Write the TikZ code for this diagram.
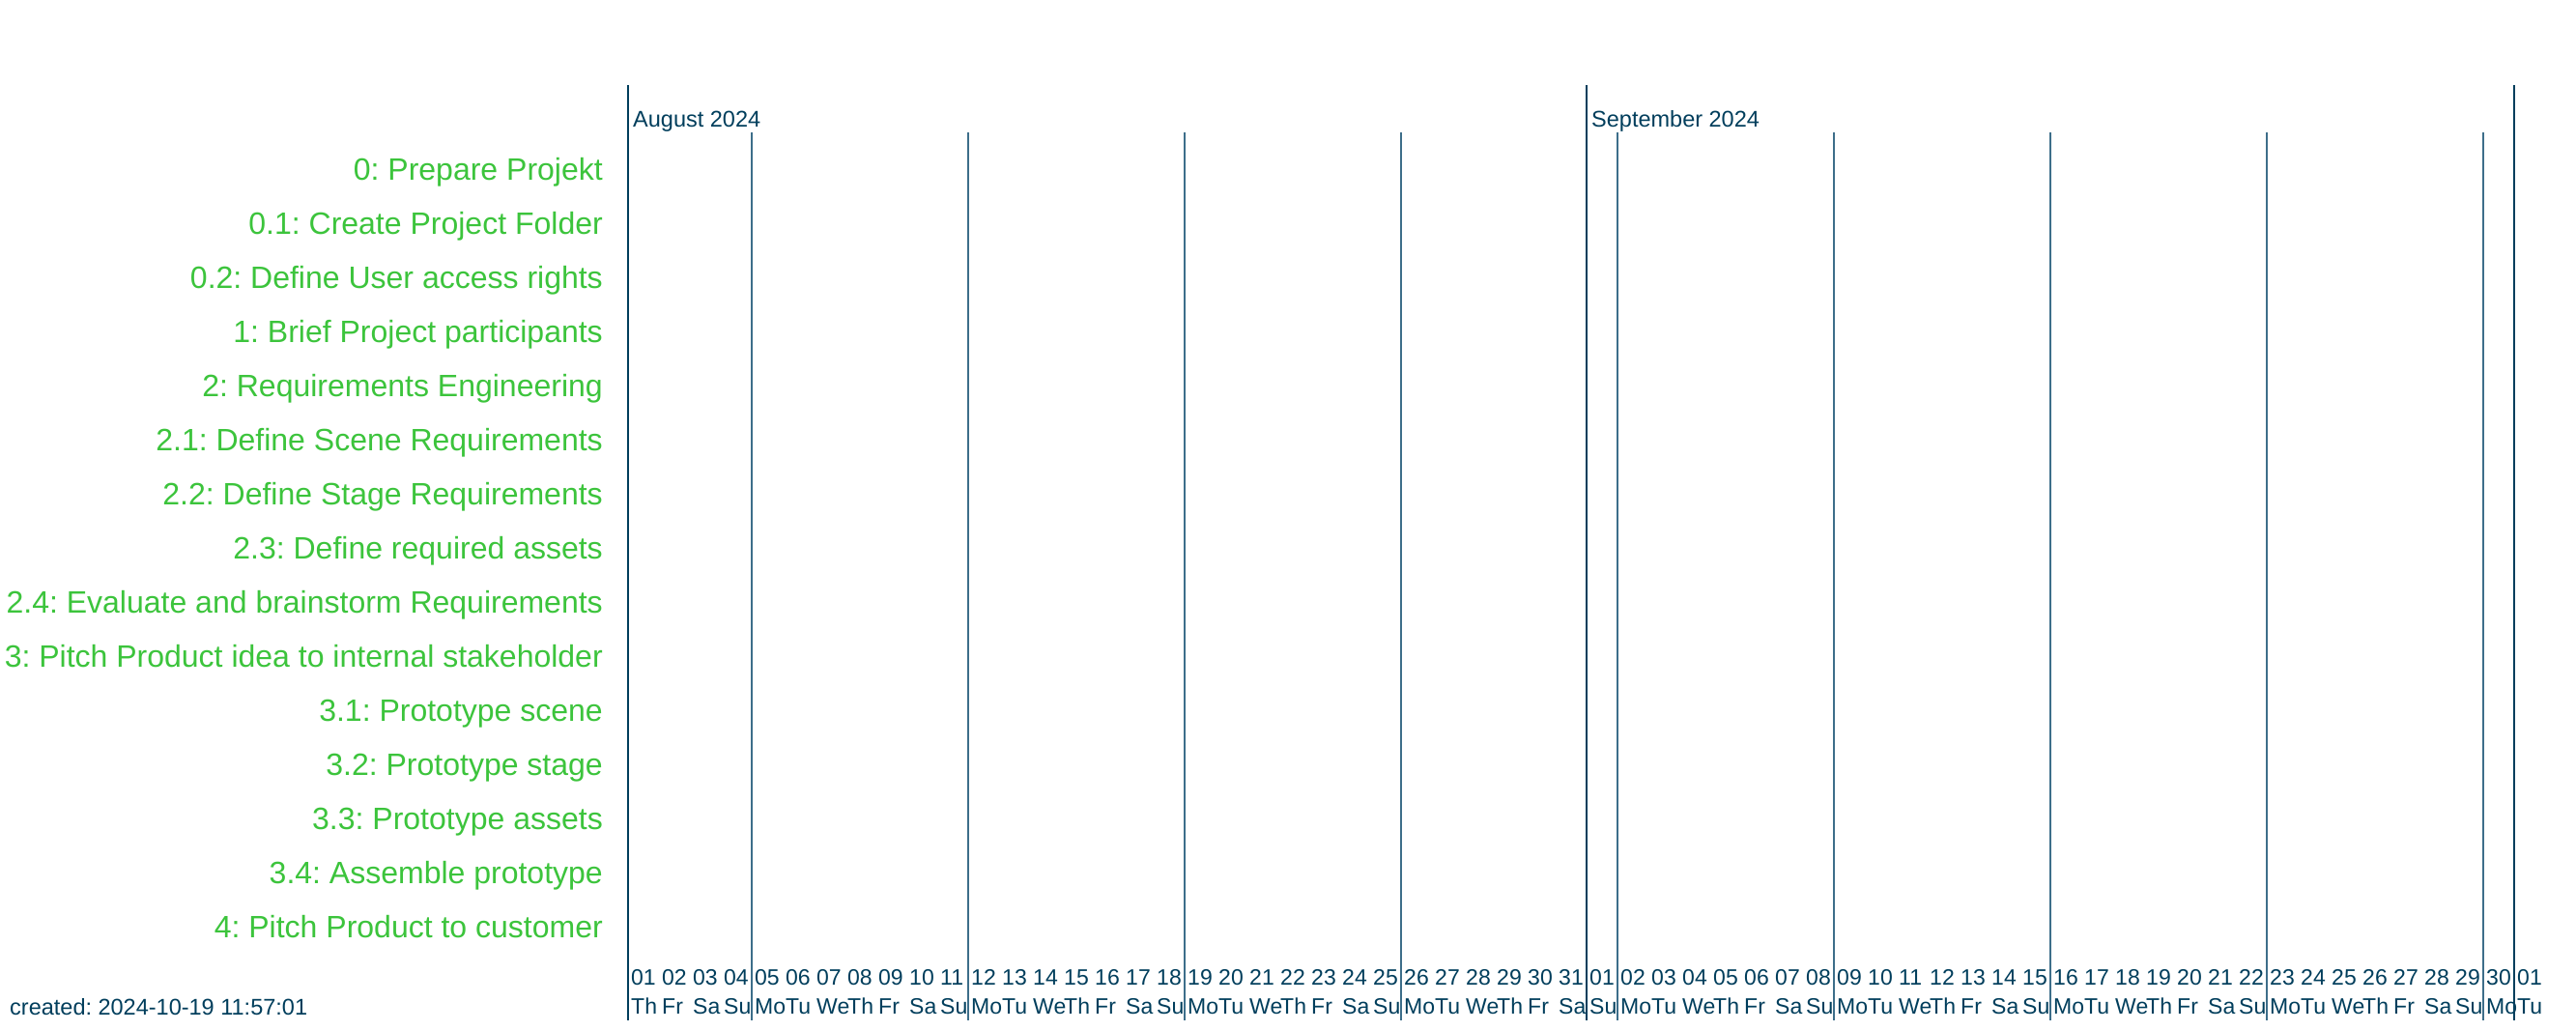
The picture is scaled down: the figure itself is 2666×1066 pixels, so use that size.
\documentclass[tikz,border=0pt]{standalone}
\usepackage{fontspec}
\setmainfont{Liberation Sans}
\frenchspacing
\definecolor{ink}{HTML}{003E5C}
\definecolor{weekc}{HTML}{3D6E8A}
\definecolor{taskc}{HTML}{3CC43C}
\tikzset{
  monthline/.style={draw=ink, line width=2.5pt},
  weekline/.style={draw=weekc, line width=1.2pt},
  tasklabel/.style={anchor=base east, inner sep=0pt, text=taskc, font=\fontsize{32}{38}\selectfont},
  daylabel/.style={anchor=base west, inner sep=0pt, text=ink, font=\fontsize{23}{27}\selectfont},
  monthlabel/.style={anchor=base west, inner sep=0pt, text=ink, font=\fontsize{23.5}{28}\selectfont},
}
\begin{document}
\begin{tikzpicture}[x=1pt,y=-1pt]
\useasboundingbox[fill=white] (0,0) rectangle (2666,1066);
% week lines (Mondays)
\foreach \wx [count=\k] in {778,1002,1226,1450,1674,1898,2122,2346,2570}
  \draw[weekline] (\wx,137) coordinate (wt\k) -- (\wx,1056) coordinate (wb\k);
% month lines
\foreach \mx [count=\k] in {650,1642,2602}
  \draw[monthline] (\mx,88) coordinate (mt\k) -- (\mx,1056) coordinate (mb\k);
% month labels
\node[monthlabel] (aug) at (655,131) {August 2024};
\node[monthlabel] (sep) at (1647,131) {September 2024};
% task labels
\foreach \t [count=\k from 0] in {
  {0: Prepare Projekt},
  {0.1: Create Project Folder},
  {0.2: Define User access rights},
  {1: Brief Project participants},
  {2: Requirements Engineering},
  {2.1: Define Scene Requirements},
  {2.2: Define Stage Requirements},
  {2.3: Define required assets},
  {2.4: Evaluate and brainstorm Requirements},
  {3: Pitch Product idea to internal stakeholder},
  {3.1: Prototype scene},
  {3.2: Prototype stage},
  {3.3: Prototype assets},
  {3.4: Assemble prototype},
  {4: Pitch Product to customer}}
  \node[tasklabel] (task\k) at (624,{186+56*\k}) {\t};
% day labels
\def\wdlist{{"Th","Fr","Sa","Su","Mo","Tu","We"}}
\foreach \d [count=\i from 0] in {01,02,03,04,05,06,07,08,09,10,11,12,13,14,15,16,17,18,19,20,21,22,23,24,25,26,27,28,29,30,31,01,02,03,04,05,06,07,08,09,10,11,12,13,14,15,16,17,18,19,20,21,22,23,24,25,26,27,28,29,30,01}{
  \pgfmathparse{\wdlist[mod(\i,7)]}
  \let\wdname\pgfmathresult
  \node[daylabel] (dn\i) at ({653+32*\i},1019) {\d};
  \node[daylabel] (dw\i) at ({653+32*\i},1049) {\wdname};
}
% creation stamp
\node[monthlabel] (created) at (10,1050) {created: 2024-10-19 11:57:01};
\end{tikzpicture}
\end{document}
